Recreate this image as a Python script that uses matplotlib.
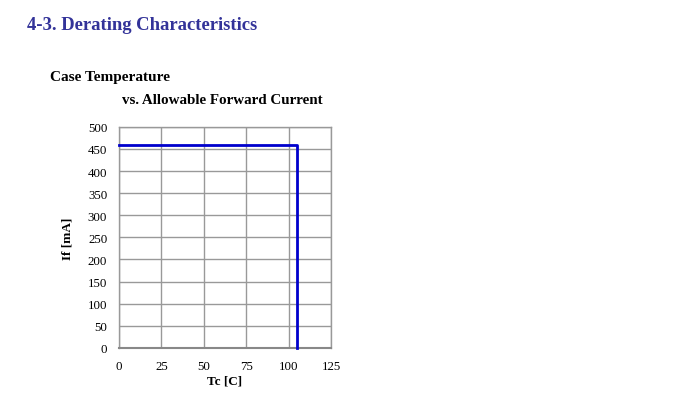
import matplotlib
matplotlib.use('Agg')
import matplotlib.pyplot as plt
import numpy as np

# Derating curve: case temperature vs allowable forward current
tc = [0, 105, 105]
if_ma = [460, 460, 0]

x_ticks = [0, 25, 50, 75, 100, 125]
y_ticks = [0, 50, 100, 150, 200, 250, 300, 350, 400, 450, 500]

plt.rcParams['font.family'] = ['Liberation Serif', 'DejaVu Serif']

fig = plt.figure(figsize=(7.0, 4.02), dpi=100)
ax = fig.add_axes([0.170, 0.132, 0.303, 0.550])

ax.plot(tc, if_ma, color='#0000CC', linewidth=2.0, zorder=3, clip_on=False)

ax.set_xlim(0, 125)
ax.set_ylim(0, 500)
ax.set_xticks(x_ticks)
ax.set_yticks(y_ticks)
ax.tick_params(length=0, labelsize=9.3, pad=8.5)
ax.grid(True, color='#999999', linewidth=1.0)
for s in ax.spines.values():
    s.set_color('#999999')
    s.set_linewidth(1.0)
ax.spines['bottom'].set_color('#888888')
ax.spines['bottom'].set_linewidth(1.5)

ax.set_xlabel('Tc [C]', fontsize=9.5, fontweight='bold')
ax.set_ylabel('If [mA]', fontsize=9.5, fontweight='bold')
ax.xaxis.set_label_coords(0.5, -0.122)
ax.yaxis.set_label_coords(-0.215, 0.5)

fig.text(27 / 700, 1 - 26 / 402, '4-3. Derating Characteristics', fontsize=13.4,
         fontweight='bold', color='#333399', va='center', ha='left')
fig.text(50 / 700, 1 - 78 / 402, 'Case Temperature', fontsize=11,
         fontweight='bold', va='center', ha='left')
fig.text(122 / 700, 1 - 100 / 402, 'vs. Allowable Forward Current', fontsize=10.8,
         fontweight='bold', va='center', ha='left')

fig.savefig('out.png', dpi=100)
